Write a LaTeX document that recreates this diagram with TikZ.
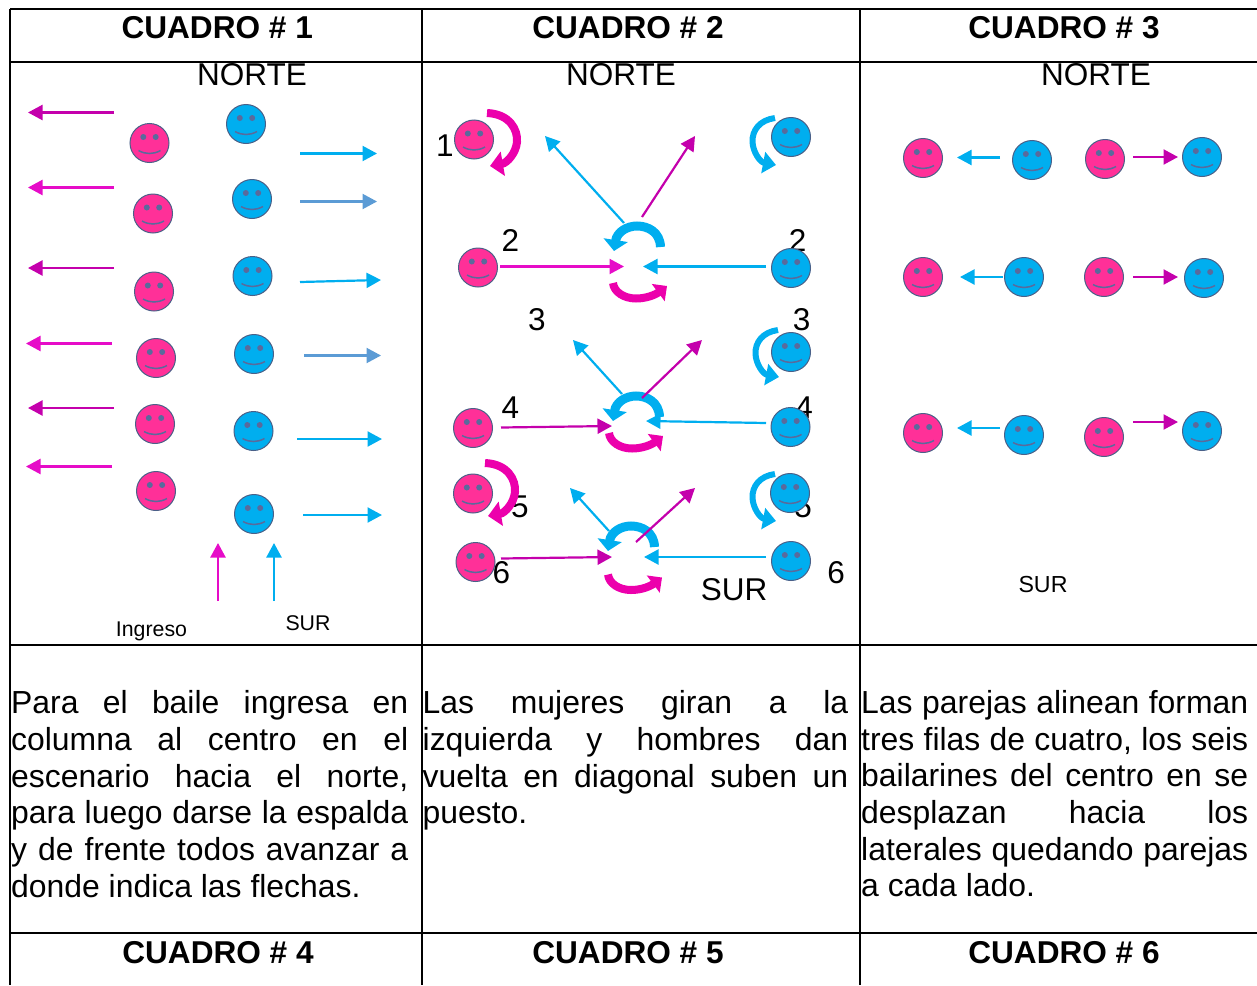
\documentclass[tikz,border=0pt]{standalone}
\usepackage{fontspec}
\setmainfont{Liberation Sans}
\usetikzlibrary{arrows.meta}
\definecolor{pk}{HTML}{E60CC8}
\definecolor{pkd}{HTML}{C400AC}
\definecolor{pkm}{HTML}{EC00AC}
\definecolor{cy}{HTML}{00AEEF}
\definecolor{st}{HTML}{5B9BD5}
\definecolor{fpink}{HTML}{FF3098}
\definecolor{fblue}{HTML}{00AEEF}
\definecolor{fline}{HTML}{4A6088}
\definecolor{feat}{HTML}{5A6A9C}
\tikzset{
  x=1pt,y=-1pt,
  grid/.style={line width=1.6pt,black},
  face/.style={circle,draw=fline,line width=1pt,minimum size=39pt,inner sep=0pt,
    path picture={
      \fill[feat] ([xshift=-6.2pt,yshift=6pt]path picture bounding box.center) circle[radius=3pt];
      \fill[feat] ([xshift=6.2pt,yshift=6pt]path picture bounding box.center) circle[radius=3pt];
      \draw[feat,line width=1.5pt] ([xshift=-11pt,yshift=-7.5pt]path picture bounding box.center)
        .. controls ([xshift=-4pt,yshift=-11.5pt]path picture bounding box.center) and ([xshift=4pt,yshift=-11.5pt]path picture bounding box.center) .. ([xshift=11pt,yshift=-7.5pt]path picture bounding box.center);
    }},
  pface/.style={face,fill=fpink},
  bface/.style={face,fill=fblue},
  arrowline/.style={line width=2.2pt,-{Triangle[length=14.5pt,width=15pt]}},
  pinkswirl/.style={pkm,line width=8pt,-{Triangle[length=13pt,width=24pt]}},
  blueswirl/.style={cy,line width=6pt,-{Triangle[length=13pt,width=21pt]}},
  bluecap/.style={cy,line width=9pt,-{Triangle[length=11pt,width=24pt]}},
  pinkcup/.style={pkm,line width=8pt,-{Triangle[length=11pt,width=21pt]}},
  head/.style={inner sep=0pt,font=\fontsize{31.6}{36}\selectfont\bfseries},
  big/.style={inner sep=0pt,font=\fontsize{31.5}{36}\selectfont},
  small/.style={inner sep=0pt,font=\fontsize{21.3}{24}\selectfont},
  para/.style={inner sep=0pt,anchor=north west,align=justify,font=\fontsize{31.9}{36.7}\selectfont},
}
\newcommand{\arw}[4]{\coordinate (#1a) at (#3); \coordinate (#1b) at (#4); \draw[arrowline,#2] (#1a) -- (#1b);}
\newcommand{\pinkturn}[1]{\draw[pinkswirl,shift={(#1)}] (487,113) .. controls (510,114) and (518,130) .. (517,142) .. controls (516,153) and (507,163) .. (490,166);}
\newcommand{\blueturn}[1]{\draw[blueswirl,shift={(#1)}] (775,118) .. controls (760,120) and (752,130) .. (752.5,142) .. controls (753,152) and (760,162) .. (776,165);}
\newcommand{\capturn}[1]{\draw[bluecap,shift={(#1)}] (660.5,247) .. controls (660,232) and (648,226) .. (637,226) .. controls (627,226) and (617,232) .. (614,251);}
\newcommand{\cupturn}[1]{\draw[pinkcup,shift={(#1)}] (613,283) .. controls (614,292) and (624,298.5) .. (636,298.5) .. controls (646,298.5) and (655,295) .. (667,286);}
\begin{document}
\begin{tikzpicture}
\useasboundingbox (0,0) rectangle (1257,985);
% table
\coordinate (tl) at (10,9); \coordinate (tr) at (1257,9);
\coordinate (al) at (10,62); \coordinate (ar) at (1257,62);
\coordinate (bl) at (10,645); \coordinate (br) at (1257,645);
\coordinate (cl) at (10,933); \coordinate (cr) at (1257,933);
\coordinate (v1) at (10,985); \coordinate (v2t) at (422,9); \coordinate (v2) at (422,985);
\coordinate (v3t) at (860,9); \coordinate (v3) at (860,985);
\draw[grid] (tl)--(tr) (al)--(ar) (bl)--(br) (cl)--(cr) (tl)--(v1) (v2t)--(v2) (v3t)--(v3);
% headers
\node[head] (h1) at (217.2,27.5) {CUADRO \# 1};
\node[head] (h2) at (628,27.5) {CUADRO \# 2};
\node[head] (h3) at (1064,27.5) {CUADRO \# 3};
\node[head] (h4) at (218,952.5) {CUADRO \# 4};
\node[head] (h5) at (628,952.5) {CUADRO \# 5};
\node[head] (h6) at (1064,952.5) {CUADRO \# 6};
\node[big] (n1) at (252,75) {NORTE};
\node[big] (n2) at (621,75) {NORTE};
\node[big] (n3) at (1096,75) {NORTE};
% paragraphs
\node[para,text width=397pt] (t1) at (11,690.5) {Para el baile ingresa en\linebreak columna al centro en el\linebreak escenario hacia el norte,\linebreak para luego darse la espalda\linebreak y de frente todos avanzar a\linebreak donde indica las flechas.};
\node[para,text width=425.5pt] (t2) at (422.5,690.5) {Las mujeres giran a la\linebreak izquierda y hombres dan\linebreak vuelta en diagonal suben un\linebreak puesto.};
\node[para,text width=387pt] (t3) at (861,690) {Las parejas alinean forman\linebreak tres filas de cuatro, los seis\linebreak bailarines del centro en se\linebreak desplazan hacia los\linebreak laterales quedando parejas\linebreak a cada lado.};
% cuadro 1
\node[pface] (a1) at (149.5,143) {};
\node[pface] (a2) at (153,213.5) {};
\node[pface] (a3) at (154,291.5) {};
\node[pface] (a4) at (156,358) {};
\node[pface] (a5) at (155,424) {};
\node[pface] (a6) at (156,491) {};
\node[bface] (b1) at (246,124) {};
\node[bface] (b2) at (252,199) {};
\node[bface] (b3) at (252.5,276) {};
\node[bface] (b4) at (254,354) {};
\node[bface] (b5) at (253.5,431) {};
\node[bface] (b6) at (254,514) {};
\arw{la1}{pkd}{114,112.5}{28,112.5}
\arw{la2}{pk}{114,187.5}{28,187.5}
\arw{la3}{pkd}{114,268}{28,268}
\arw{la4}{pk}{112,343.5}{26,343.5}
\arw{la5}{pkd}{114,408}{28,408}
\arw{la6}{pk}{112,466.5}{26,466.5}
\arw{ra1}{cy}{300,153.5}{377,153.5}
\arw{ra2}{st}{300,201.5}{377,201.5}
\arw{ra3}{cy}{300,282}{381,280}
\arw{ra4}{st}{304,355.5}{381,355.5}
\arw{ra5}{cy}{297,439}{382,439}
\arw{ra6}{cy}{303,515}{382,515}
\arw{ua1}{pk}{218,601}{218,543}
\arw{ua2}{cy}{274,601}{274,543}
\node[small] (ing) at (151.5,631) {Ingreso};
\node[small] (sur1) at (308,623.5) {SUR};
% cuadro 2 labels
\node[big] (d1) at (445,146) {1};
\node[big] (d2) at (510.5,240) {2};
\node[big] (d2r) at (797.5,240) {2};
\node[big] (d3) at (537,319.5) {3};
\node[big] (d3r) at (801.5,319.5) {3};
\node[big] (d4) at (510.5,408) {4};
\node[big] (d4r) at (804,408) {4};
\node[big] (d5) at (520,507) {5};
\node[big] (d5r) at (803,507) {5};
\node[big] (d6) at (501.5,573) {6};
\node[big] (d6r) at (836,573) {6};
\node[big] (sur2) at (734,590) {SUR};
% cuadro 2 faces
\node[pface] (c1) at (474,139.5) {};
\node[bface] (e1) at (791,137) {};
\node[pface] (c2) at (478,267.5) {};
\node[bface] (e2) at (791,268) {};
\node[bface] (e3) at (791,352) {};
\node[pface] (c4) at (473,428) {};
\node[bface] (e4) at (790.5,427) {};
\node[pface] (c5) at (473,493.5) {};
\node[bface] (e5) at (790,493) {};
\node[pface] (c6) at (475.5,562) {};
\node[bface] (e6) at (791,561) {};
% cuadro 2 turning arrows
\pinkturn{0,0}
\pinkturn{-2,350}
\blueturn{0,0}
\blueturn{3,212}
\blueturn{0,356}
\capturn{0,0}
\cupturn{0,0}
\capturn{-1,170}
\cupturn{-4,150}
\capturn{-6,300}
\cupturn{-5,291.5}
% cuadro 2 arrows
\arw{da1}{cy}{624,223}{545,136}
\arw{da2}{pkd}{642,217}{695,136}
\arw{ha1}{pk}{500,266.5}{624,266.5}
\arw{ha2}{cy}{766,266.5}{643,266.5}
\arw{da3}{cy}{622,394}{573,340}
\arw{da4}{pkd}{642,398}{702,340}
\arw{ha3}{pkd}{501,427.5}{612,426}
\arw{ha4}{cy}{766,423}{646,421}
\arw{da5}{cy}{609,531}{570,488}
\arw{da6}{pkd}{636,542}{695,488}
\arw{ha5}{pkd}{501,558.5}{612,557}
\arw{ha6}{cy}{766,557}{644,557}
% cuadro 3
\node[pface] (f1) at (923,158) {};
\node[bface] (g1) at (1032,160) {};
\node[pface] (f2) at (1105,159) {};
\node[bface] (g2) at (1202,157) {};
\node[pface] (f3) at (923,277) {};
\node[bface] (g3) at (1024,277) {};
\node[pface] (f4) at (1104,277) {};
\node[bface] (g4) at (1204,278) {};
\node[pface] (f5) at (923,433) {};
\node[bface] (g5) at (1024,435) {};
\node[pface] (f6) at (1104,437) {};
\node[bface] (g6) at (1202,431) {};
\arw{x1}{cy}{1000,157.5}{957,157.5}
\arw{x2}{pkd}{1133,157}{1178,157}
\arw{x3}{cy}{1003,277}{960,277}
\arw{x4}{pkd}{1133,277}{1178,277}
\arw{x5}{cy}{1000,428}{957,428}
\arw{x6}{pkd}{1133,422}{1178,422}
\node[inner sep=0pt,font=\fontsize{23.2}{26}\selectfont] (sur3) at (1043,585) {SUR};
\end{tikzpicture}
\end{document}
